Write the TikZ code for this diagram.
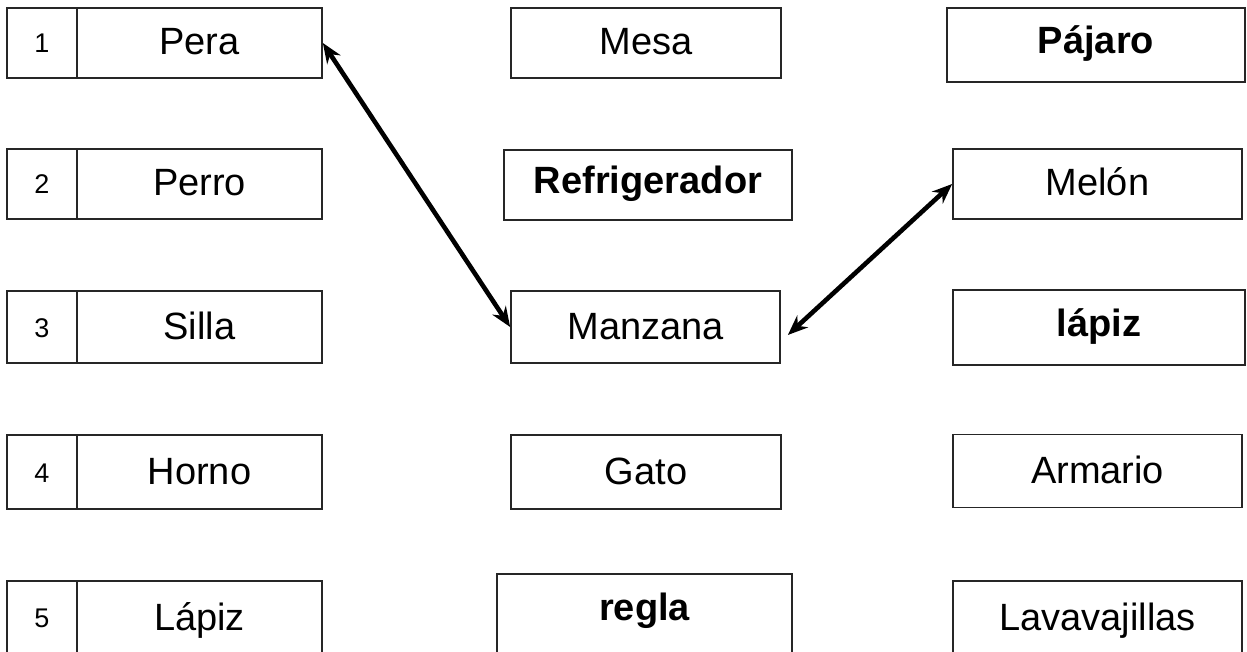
\documentclass[tikz,border=0pt]{standalone}
\usepackage{fontspec}
\setmainfont{Liberation Sans}
\usetikzlibrary{arrows.meta}
\begin{document}
\begin{tikzpicture}[x=1pt,y=-1pt,
  box/.style={draw=black!85, line width=1.7pt, inner sep=0pt, minimum height=0pt},
  word/.style={box, font=\fontsize{38}{40}\selectfont, text height=28pt, text depth=4pt},
  bword/.style={box, font=\fontsize{38}{40}\selectfont\bfseries, text height=22pt, text depth=4pt},
  num/.style={box, font=\fontsize{27}{30}\selectfont, text height=20pt, text depth=0pt, minimum width=70pt},
  tw/.style={minimum width=245pt},
  link/.style={{Stealth[length=20pt,width=16pt]}-{Stealth[length=20pt,width=16pt]}, line width=4.6pt}]
\useasboundingbox (0,0) rectangle (1247,652);
\clip (0,0) rectangle (1247,652);
\fill[white] (0,0) rectangle (1247,652);
% left column
\node[num, minimum height=70pt] (n1) at (42,43) {1};
\node[word, tw, minimum height=70pt] (pera) at (199.5,43) {Pera};
\node[num, minimum height=70pt] (n2) at (42,184) {2};
\node[word, tw, minimum height=70pt] (perro) at (199.5,184) {Perro};
\node[num, minimum height=72pt] (n3) at (42,327) {3};
\node[word, tw, minimum height=72pt] (silla) at (199.5,327) {Silla};
\node[num, minimum height=74pt] (n4) at (42,472) {4};
\node[word, tw, minimum height=74pt] (horno) at (199.5,472) {Horno};
\node[num, anchor=north, text height=47pt, text depth=150pt] (n5) at (42,580) {5};
\node[word, tw, anchor=north, text height=50pt, text depth=150pt] (lapiz1) at (199.5,580) {Lápiz};
% middle column
\node[word, minimum width=270pt, minimum height=70pt] (mesa) at (646,43) {Mesa};
\node[bword, minimum width=288pt, minimum height=70pt] (refri) at (648,185) {Refrigerador};
\node[word, minimum width=269pt, minimum height=72pt] (manz) at (645.5,327) {Manzana};
\node[word, minimum width=270pt, minimum height=74pt] (gato) at (646,472) {Gato};
\node[bword, minimum width=295pt, anchor=north, text height=47pt, text depth=150pt] (regla) at (644.5,573) {regla};
% right column
\node[bword, minimum width=298pt, minimum height=74pt] (pajaro) at (1096,45) {Pájaro};
\node[word, minimum width=289pt, minimum height=70pt] (melon) at (1097.5,184) {Melón};
\node[bword, minimum width=292pt, minimum height=75pt] (lapiz2) at (1099,327.5) {lápiz};
\node[word, minimum width=289pt, minimum height=73pt] (armario) at (1097.5,471) {Armario};
\node[word, minimum width=289pt, anchor=north, text height=50pt, text depth=150pt] (lava) at (1097.5,580) {Lavavajillas};
% connectors
\draw[link] (pera.east) -- (manz.west);
\draw[link] ([xshift=7pt,yshift=-8pt]manz.east) -- (melon.west);
\end{tikzpicture}
\end{document}
